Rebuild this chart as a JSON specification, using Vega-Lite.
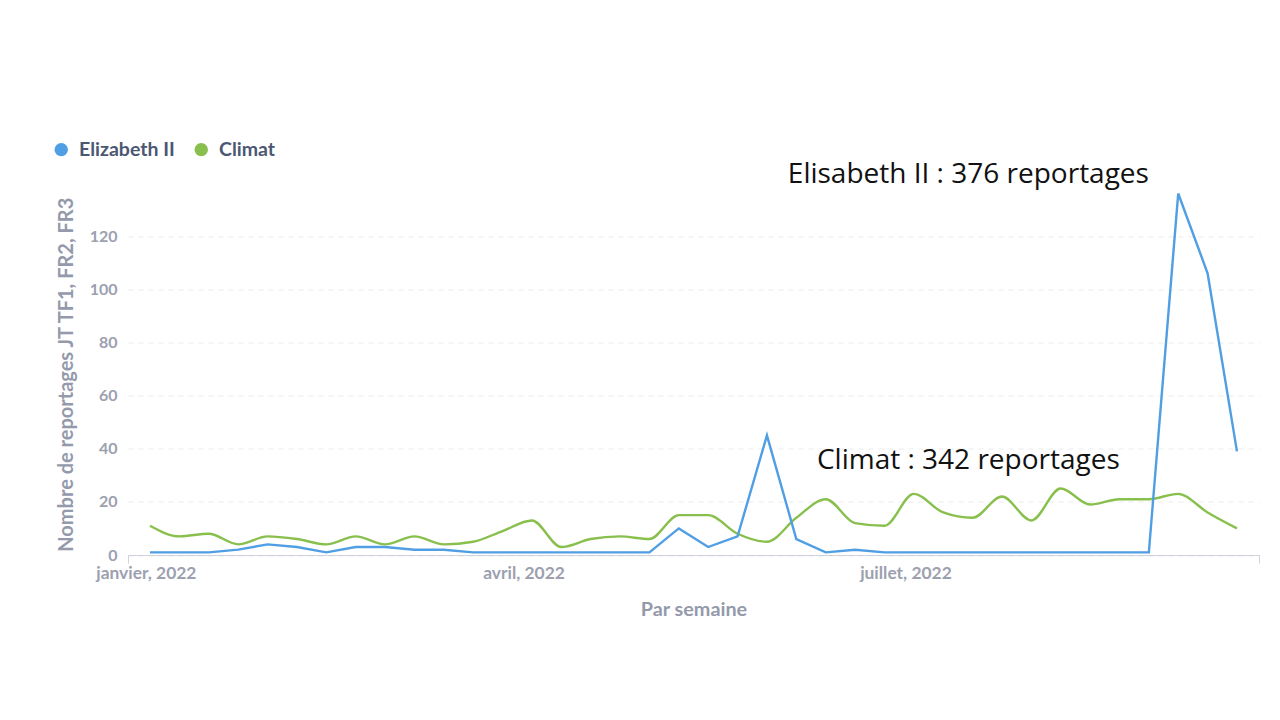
{
  "$schema": "https://vega.github.io/schema/vega-lite/v6.json",
  "autosize": "none",
  "width": 1131,
  "height": 361.5,
  "padding": {"left": 128, "top": 193.5, "right": 21, "bottom": 165},
  "background": "white",
  "config": {"view": {"stroke": null}},
  "datasets": {
    "weekly": [
      {"semaine": "2022-01-02T00:00:00", "serie": "Elizabeth II", "n": 1},
      {"semaine": "2022-01-09T00:00:00", "serie": "Elizabeth II", "n": 1},
      {"semaine": "2022-01-16T00:00:00", "serie": "Elizabeth II", "n": 1},
      {"semaine": "2022-01-23T00:00:00", "serie": "Elizabeth II", "n": 2},
      {"semaine": "2022-01-30T00:00:00", "serie": "Elizabeth II", "n": 4},
      {"semaine": "2022-02-06T00:00:00", "serie": "Elizabeth II", "n": 3},
      {"semaine": "2022-02-13T00:00:00", "serie": "Elizabeth II", "n": 1},
      {"semaine": "2022-02-20T00:00:00", "serie": "Elizabeth II", "n": 3},
      {"semaine": "2022-02-27T00:00:00", "serie": "Elizabeth II", "n": 3},
      {"semaine": "2022-03-06T00:00:00", "serie": "Elizabeth II", "n": 2},
      {"semaine": "2022-03-13T00:00:00", "serie": "Elizabeth II", "n": 2},
      {"semaine": "2022-03-20T00:00:00", "serie": "Elizabeth II", "n": 1},
      {"semaine": "2022-03-27T00:00:00", "serie": "Elizabeth II", "n": 1},
      {"semaine": "2022-04-03T00:00:00", "serie": "Elizabeth II", "n": 1},
      {"semaine": "2022-04-10T00:00:00", "serie": "Elizabeth II", "n": 1},
      {"semaine": "2022-04-17T00:00:00", "serie": "Elizabeth II", "n": 1},
      {"semaine": "2022-04-24T00:00:00", "serie": "Elizabeth II", "n": 1},
      {"semaine": "2022-05-01T00:00:00", "serie": "Elizabeth II", "n": 1},
      {"semaine": "2022-05-08T00:00:00", "serie": "Elizabeth II", "n": 10},
      {"semaine": "2022-05-15T00:00:00", "serie": "Elizabeth II", "n": 3},
      {"semaine": "2022-05-22T00:00:00", "serie": "Elizabeth II", "n": 7},
      {"semaine": "2022-05-29T00:00:00", "serie": "Elizabeth II", "n": 45},
      {"semaine": "2022-06-05T00:00:00", "serie": "Elizabeth II", "n": 6},
      {"semaine": "2022-06-12T00:00:00", "serie": "Elizabeth II", "n": 1},
      {"semaine": "2022-06-19T00:00:00", "serie": "Elizabeth II", "n": 2},
      {"semaine": "2022-06-26T00:00:00", "serie": "Elizabeth II", "n": 1},
      {"semaine": "2022-07-03T00:00:00", "serie": "Elizabeth II", "n": 1},
      {"semaine": "2022-07-10T00:00:00", "serie": "Elizabeth II", "n": 1},
      {"semaine": "2022-07-17T00:00:00", "serie": "Elizabeth II", "n": 1},
      {"semaine": "2022-07-24T00:00:00", "serie": "Elizabeth II", "n": 1},
      {"semaine": "2022-07-31T00:00:00", "serie": "Elizabeth II", "n": 1},
      {"semaine": "2022-08-07T00:00:00", "serie": "Elizabeth II", "n": 1},
      {"semaine": "2022-08-14T00:00:00", "serie": "Elizabeth II", "n": 1},
      {"semaine": "2022-08-21T00:00:00", "serie": "Elizabeth II", "n": 1},
      {"semaine": "2022-08-28T00:00:00", "serie": "Elizabeth II", "n": 1},
      {"semaine": "2022-09-04T00:00:00", "serie": "Elizabeth II", "n": 136},
      {"semaine": "2022-09-11T00:00:00", "serie": "Elizabeth II", "n": 106},
      {"semaine": "2022-09-18T00:00:00", "serie": "Elizabeth II", "n": 39},
      {"semaine": "2022-01-02T00:00:00", "serie": "Climat", "n": 11},
      {"semaine": "2022-01-09T00:00:00", "serie": "Climat", "n": 7},
      {"semaine": "2022-01-16T00:00:00", "serie": "Climat", "n": 8},
      {"semaine": "2022-01-23T00:00:00", "serie": "Climat", "n": 4},
      {"semaine": "2022-01-30T00:00:00", "serie": "Climat", "n": 7},
      {"semaine": "2022-02-06T00:00:00", "serie": "Climat", "n": 6},
      {"semaine": "2022-02-13T00:00:00", "serie": "Climat", "n": 4},
      {"semaine": "2022-02-20T00:00:00", "serie": "Climat", "n": 7},
      {"semaine": "2022-02-27T00:00:00", "serie": "Climat", "n": 4},
      {"semaine": "2022-03-06T00:00:00", "serie": "Climat", "n": 7},
      {"semaine": "2022-03-13T00:00:00", "serie": "Climat", "n": 4},
      {"semaine": "2022-03-20T00:00:00", "serie": "Climat", "n": 5},
      {"semaine": "2022-03-27T00:00:00", "serie": "Climat", "n": 9},
      {"semaine": "2022-04-03T00:00:00", "serie": "Climat", "n": 13},
      {"semaine": "2022-04-10T00:00:00", "serie": "Climat", "n": 3},
      {"semaine": "2022-04-17T00:00:00", "serie": "Climat", "n": 6},
      {"semaine": "2022-04-24T00:00:00", "serie": "Climat", "n": 7},
      {"semaine": "2022-05-01T00:00:00", "serie": "Climat", "n": 6},
      {"semaine": "2022-05-08T00:00:00", "serie": "Climat", "n": 15},
      {"semaine": "2022-05-15T00:00:00", "serie": "Climat", "n": 15},
      {"semaine": "2022-05-22T00:00:00", "serie": "Climat", "n": 8},
      {"semaine": "2022-05-29T00:00:00", "serie": "Climat", "n": 5},
      {"semaine": "2022-06-05T00:00:00", "serie": "Climat", "n": 14},
      {"semaine": "2022-06-12T00:00:00", "serie": "Climat", "n": 21},
      {"semaine": "2022-06-19T00:00:00", "serie": "Climat", "n": 12},
      {"semaine": "2022-06-26T00:00:00", "serie": "Climat", "n": 11},
      {"semaine": "2022-07-03T00:00:00", "serie": "Climat", "n": 23},
      {"semaine": "2022-07-10T00:00:00", "serie": "Climat", "n": 16},
      {"semaine": "2022-07-17T00:00:00", "serie": "Climat", "n": 14},
      {"semaine": "2022-07-24T00:00:00", "serie": "Climat", "n": 22},
      {"semaine": "2022-07-31T00:00:00", "serie": "Climat", "n": 13},
      {"semaine": "2022-08-07T00:00:00", "serie": "Climat", "n": 25},
      {"semaine": "2022-08-14T00:00:00", "serie": "Climat", "n": 19},
      {"semaine": "2022-08-21T00:00:00", "serie": "Climat", "n": 21},
      {"semaine": "2022-08-28T00:00:00", "serie": "Climat", "n": 21},
      {"semaine": "2022-09-04T00:00:00", "serie": "Climat", "n": 23},
      {"semaine": "2022-09-11T00:00:00", "serie": "Climat", "n": 16},
      {"semaine": "2022-09-18T00:00:00", "serie": "Climat", "n": 10}
    ],
    "notes": [
      {"semaine": "2022-07-16T00:00:00", "n": 139.8, "texte": "Elisabeth II : 376 reportages"},
      {"semaine": "2022-07-16T00:00:00", "n": 32.4, "texte": "Climat : 342 reportages"}
    ]
  },
  "resolve": {"axis": {"x": "independent"}},
  "layer": [
    {
      "data": {"name": "weekly"},
      "mark": {"type": "line", "strokeWidth": 2.4, "interpolate": "monotone"},
      "transform": [{"filter": "datum.serie == 'Climat'"}],
      "encoding": {
        "x": {
          "field": "semaine", "type": "temporal",
          "scale": {"domain": [{"year": 2021, "month": 12, "date": 27, "hours": 18}, {"year": 2022, "month": 9, "date": 23, "hours": 6}]},
          "axis": {
            "orient": "bottom",
            "values": [{"year": 2022, "month": 1, "date": 1}, {"year": 2022, "month": 4, "date": 1}, {"year": 2022, "month": 7, "date": 1}],
            "labelExpr": "month(datum.value) == 0 ? 'janvier, 2022' : (month(datum.value) == 3 ? 'avril, 2022' : 'juillet, 2022')",
            "domain": false, "ticks": false, "grid": false,
            "labelFont": "Lato", "labelFontWeight": "bold", "labelFontSize": 17.4, "labelColor": "#9ca0af",
            "labelPadding": 9, "labelFlush": false, "labelOverlap": false,
            "title": "Par semaine", "titleFont": "Lato", "titleFontWeight": "bold", "titleFontSize": 19.8, "titleColor": "#949aab", "titlePadding": 18
          }
        },
        "y": {
          "field": "n", "type": "quantitative",
          "scale": {"domain": [0, 136], "nice": false},
          "axis": {
            "values": [0, 20, 40, 60, 80, 100, 120],
            "domain": false, "ticks": false,
            "grid": true, "gridColor": "#e9ebee", "gridDash": [5, 5], "gridWidth": 1,
            "labelFont": "Lato", "labelFontWeight": "bold", "labelFontSize": 16, "labelColor": "#9ca0af", "labelPadding": 11,
            "title": "Nombre de reportages JT TF1, FR2, FR3", "titleFont": "Lato", "titleFontWeight": "bold", "titleFontSize": 20, "titleColor": "#949aab", "titlePadding": 13
          }
        },
        "color": {
          "field": "serie", "type": "nominal",
          "scale": {"domain": ["Elizabeth II", "Climat"], "range": ["#509ee3", "#88bf4d"]},
          "legend": {
            "orient": "none", "legendX": -76.5, "legendY": -54, "direction": "horizontal", "title": null,
            "symbolType": "circle", "symbolSize": 180, "padding": 0,
            "labelFont": "Lato", "labelFontWeight": "bold", "labelFontSize": 19.5, "labelColor": "#4c5773",
            "labelOffset": 8, "columnPadding": 16,
            "encode": {"symbols": {"update": {"fill": {"scale": "color", "field": "value"}, "strokeWidth": {"value": 0}, "fillOpacity": {"value": 1}}}}
          }
        }
      }
    },
    {
      "data": {"name": "weekly"},
      "mark": {"type": "line", "strokeWidth": 2.4},
      "transform": [{"filter": "datum.serie == 'Elizabeth II'"}],
      "encoding": {
        "x": {"field": "semaine", "type": "temporal", "axis": null},
        "y": {"field": "n", "type": "quantitative"},
        "color": {"field": "serie", "type": "nominal"}
      }
    },
    {
      "data": {"name": "notes"},
      "mark": {"type": "text", "font": "Open Sans", "fontSize": 28, "color": "#111111", "align": "center", "baseline": "alphabetic"},
      "encoding": {
        "x": {
          "field": "semaine", "type": "temporal",
          "axis": {
            "orient": "bottom",
            "values": [{"year": 2021, "month": 12, "date": 27, "hours": 18}, {"year": 2022, "month": 9, "date": 23, "hours": 6}],
            "labels": false, "grid": false, "title": null,
            "domain": true, "domainColor": "#cfd2d8", "domainWidth": 1,
            "ticks": true, "tickColor": "#cfd2d8", "tickSize": 8, "tickWidth": 1
          }
        },
        "y": {"field": "n", "type": "quantitative"},
        "text": {"field": "texte"}
      }
    }
  ]
}
